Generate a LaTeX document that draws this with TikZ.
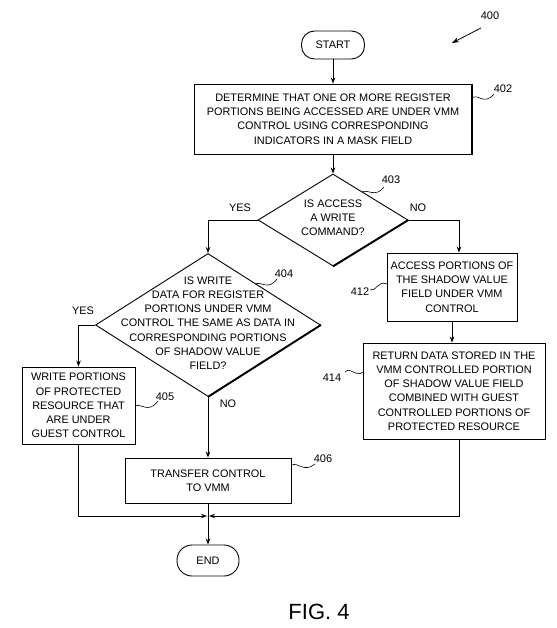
\documentclass[tikz,border=0pt]{standalone}
\usepackage{fontspec}
\setmainfont{Liberation Sans}
\usetikzlibrary{shapes.geometric,arrows.meta,calc}
\begin{document}
\begin{tikzpicture}[x=1pt,y=-1pt,
  every node/.style={font=\fontsize{10.9}{14.2}\selectfont},
  txt/.style={align=center, inner sep=0pt},
  box/.style={draw, line width=0.9pt, inner sep=0pt, align=center},
  term/.style={draw, line width=0.9pt, rounded corners=13pt, inner sep=0pt, minimum height=28pt},
  dia/.style={draw, diamond, line width=0.9pt, inner sep=0pt},
  ref/.style={font=\fontsize{11}{13}\selectfont, inner sep=0pt},
  lab/.style={inner sep=0pt},
  sq/.style={line width=0.6pt},
  heavy/.style={line width=1.8pt},
  flow/.style={line width=0.8pt, -{Stealth[length=6pt,width=4.5pt]}},
  plain/.style={line width=0.8pt}
]
\useasboundingbox (0,0) rectangle (556,628);

% nodes
\node[term, minimum width=63pt] (start) at (333,45) {START};
\node[box, minimum width=277pt, minimum height=70pt] (b402) at (333,119)
  {DETERMINE THAT ONE OR MORE REGISTER\\PORTIONS BEING ACCESSED ARE UNDER VMM\\CONTROL USING CORRESPONDING\\INDICATORS IN A MASK FIELD};
\node[dia, minimum width=150pt, minimum height=92pt] (d403) at (333,220) {};
\node[txt] (t403) at (333,218) {IS ACCESS\\A WRITE\\COMMAND?};
\node[dia, minimum width=225pt, minimum height=143pt] (d404) at (208,325) {};
\node[txt] (t404) at (208,323) {IS WRITE\\DATA FOR REGISTER\\PORTIONS UNDER VMM\\CONTROL THE SAME AS DATA IN\\CORRESPONDING PORTIONS\\OF SHADOW VALUE\\FIELD?};
\node[box, minimum width=113pt, minimum height=77pt] (b405) at (78.5,405.5)
  {WRITE PORTIONS\\OF PROTECTED\\RESOURCE THAT\\ARE UNDER\\GUEST CONTROL};
\node[box, minimum width=166pt, minimum height=45pt] (b406) at (208,480.5)
  {TRANSFER CONTROL\\TO VMM};
\node[box, minimum width=130pt, minimum height=68pt] (b412) at (452,287)
  {ACCESS PORTIONS OF\\THE SHADOW VALUE\\FIELD UNDER VMM\\CONTROL};
\node[box, minimum width=182pt, minimum height=96pt] (b414) at (454,391)
  {RETURN DATA STORED IN THE\\VMM CONTROLLED PORTION\\OF SHADOW VALUE FIELD\\COMBINED WITH GUEST\\CONTROLLED PORTIONS OF\\PROTECTED RESOURCE};
\node[term, minimum width=62pt, minimum height=31pt, rounded corners=15pt] (end) at (208,560.5) {END};

% heavy lower/right edges
\draw[heavy] (b402.north east) -- (b402.south east) -- (b402.south west);
\draw[heavy] (b405.north east) -- (b405.south east) -- (b405.south west);
\draw[heavy] (b406.north east) -- (b406.south east) -- (b406.south west);
\draw[heavy] (b412.north east) -- (b412.south east) -- (b412.south west);
\draw[heavy] (b414.north east) -- (b414.south east) -- (b414.south west);
\draw[heavy] (d403.east) -- (d403.south);
\draw[heavy] (d404.east) -- (d404.south);

% connectors
\coordinate (j) at (208,516);
\draw[flow] (start.south) -- (b402.north);
\draw[flow] (b402.south) -- (d403.north);
\draw[flow] (d403.west) -| (d404.north);
\draw[flow] (d403.east) -| ([xshift=7pt]b412.north);
\draw[flow] (b412.south) -- (b412.south |- b414.north);
\draw[flow] (d404.west) -| (b405.north);
\draw[flow] (d404.south) -- (b406.north);
\draw[flow] (b405.south) |- ([xshift=-1pt]j);
\draw[flow] ([xshift=5pt]b414.south) |- ([xshift=1pt]j);
\draw[flow] (b406.south) -- (end.north);

% branch labels
\node[lab] (yes1) at (240,208) {YES};
\node[lab] (no1) at (418,208) {NO};
\node[lab] (yes2) at (83,311) {YES};
\node[lab] (no2) at (228,404) {NO};

% reference numerals
\node[ref] (r400) at (490,16) {400};
\coordinate (a400s) at (481,28);
\coordinate (a400e) at (452,43);
\draw[line width=0.8pt, -{Stealth[length=7pt,width=5pt]}] (a400s) -- (a400e);

\node[ref] (r402) at (503,89) {402};
\draw[sq] (472,98) .. controls (478,93) and (484,106) .. (494,94);

\node[ref] (r403) at (391,180) {403};
\draw[sq] (362,192) .. controls (368,189) and (376,198) .. (384,187);

\node[ref] (r404) at (284,274) {404};
\draw[sq] (255,284) .. controls (262,281) and (268,291) .. (277,279);

\node[ref] (r405) at (165,397) {405};
\draw[sq] (135,406) .. controls (142,403) and (148,414) .. (158,401);

\node[ref] (r406) at (323,459) {406};
\draw[sq] (292,465) .. controls (298,462) and (304,473) .. (315,464);

\node[ref] (r412) at (360,292) {412};
\draw[sq] (370,290) .. controls (376,292) and (378,280) .. (387,284);

\node[ref] (r414) at (332,378) {414};
\draw[sq] (345,372) .. controls (351,366) and (355,378) .. (363,372);

\node[font=\fontsize{22}{24}\selectfont, inner sep=0pt] (fig) at (319,612) {FIG. 4};
\end{tikzpicture}
\end{document}
